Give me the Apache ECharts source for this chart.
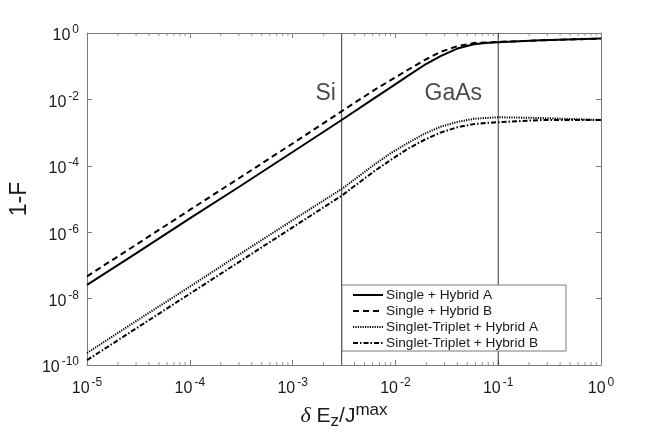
<!DOCTYPE html>
<html>
<head>
<meta charset="utf-8">
<script src="https://cdn.jsdelivr.net/npm/echarts@6/dist/echarts.min.js"></script>
<style>
html,body{margin:0;padding:0;background:#fff;}
#chart{width:664px;height:441px;}
</style>
</head>
<body>
<div id="chart"></div>
<script>
// ---- data ----
const xValues = [1e-5, 3e-5, 1e-4, 3e-4, 1e-3, 3e-3, 0.0062, 0.009, 0.0131, 0.019, 0.0275, 0.04, 0.058, 0.075, 0.1, 0.26, 1];
const singleHybridA = [2.6e-8, 2.3e-7, 2.6e-6, 2.3e-5, 2.6e-4, 2.4e-3, 1.07e-2, 2.3e-2, 5.0e-2, 0.107, 0.20, 0.34, 0.46, 0.50, 0.525, 0.60, 0.68];
const singleHybridB = [4.7e-8, 4.2e-7, 4.7e-6, 4.2e-5, 4.7e-4, 4.4e-3, 1.9e-2, 3.8e-2, 7.6e-2, 0.15, 0.27, 0.40, 0.50, 0.52, 0.54, 0.60, 0.68];
const stHybridA = [2.3e-10, 2.1e-9, 2.3e-8, 2.1e-7, 2.3e-6, 2.0e-5, 1.07e-4, 2.4e-4, 4.8e-4, 9.1e-4, 1.5e-3, 2.1e-3, 2.6e-3, 2.75e-3, 2.9e-3, 2.75e-3, 2.4e-3];
const stHybridB = [1.4e-10, 1.26e-9, 1.4e-8, 1.26e-7, 1.4e-6, 1.26e-5, 6.8e-5, 1.5e-4, 3.2e-4, 6.0e-4, 1.0e-3, 1.45e-3, 1.8e-3, 1.95e-3, 2.05e-3, 2.4e-3, 2.4e-3];
const seriesNames = ['Single + Hybrid A', 'Single + Hybrid B', 'Singlet-Triplet + Hybrid A', 'Singlet-Triplet + Hybrid B'];
const materialNames = ['Si', 'GaAs'];
const materialX = [3e-3, 0.1];
const materialLabelX = [2.1e-3, 0.0366];
const materialLabelY = [1.5e-2, 1.5e-2];
const xMin = 1e-5, xMax = 1, yMin = 1e-10, yMax = 1;
const minorMultipliers = [2, 3, 4, 5, 6, 7, 8, 9];
const minorDecades = [1e-5, 1e-4, 1e-3, 1e-2, 1e-1];

const minorTicks = [];
minorDecades.forEach(d => minorMultipliers.forEach(m => minorTicks.push(m * d)));

const AX = '#7a7a7a';
const TXT = '#1a1a1a';
function pow10Label(v) {
  const e = Math.round(Math.log10(v));
  return '{b|10}{s|' + e + '}';
}
const richTick = {
  b: {fontSize: 16, fontFamily: 'Liberation Sans', color: TXT, padding: [6, 0, 0, 0]},
  s: {fontSize: 12, fontFamily: 'Liberation Sans', color: TXT, padding: [0, 0, 6, 2]}
};

function lineSeries(name, ys, type) {
  return {
    name: name, type: 'line', symbol: 'none',
    data: xValues.map((x, i) => [x, ys[i]]),
    lineStyle: {color: '#000', width: 2, type: type},
    itemStyle: {color: '#000'},
    z: 5
  };
}

const series = [
  lineSeries(seriesNames[0], singleHybridA, 'solid'),
  lineSeries(seriesNames[1], singleHybridB, [6, 4]),
  lineSeries(seriesNames[2], stHybridA, [1.2, 1.2]),
  lineSeries(seriesNames[3], stHybridB, [5, 2, 1.5, 2])
];
materialX.forEach((mx, i) => {
  series.push({
    type: 'line', symbol: 'none', silent: true, z: 3,
    data: [[mx, yMin], [mx, yMax]],
    lineStyle: {color: '#333', width: 1}
  });
});
series.push({
  type: 'scatter', symbolSize: 0, silent: true,
  data: materialNames.map((n, i) => ({name: n, value: [materialLabelX[i], materialLabelY[i]]})),
  label: {show: true, position: 'inside', formatter: '{b}', fontSize: 23, fontFamily: 'Liberation Sans', color: TXT}
});
// minor ticks of the x axes (bottom and top)
series.push({
  type: 'scatter', symbol: 'rect', symbolSize: [1, 3], symbolOffset: [0, -1.5], clip: false, silent: true,
  data: minorTicks.map(x => [x, yMin]), itemStyle: {color: AX}, z: 6
});
series.push({
  type: 'scatter', symbol: 'rect', symbolSize: [1, 3], symbolOffset: [0, 1.5], clip: false, silent: true,
  data: minorTicks.map(x => [x, yMax]), itemStyle: {color: AX}, z: 6
});

const xBase = {
  type: 'log', logBase: 10, min: xMin, max: xMax, splitNumber: 5,
  axisLine: {show: true, lineStyle: {color: AX, width: 1}},
  axisTick: {show: true, inside: true, length: 5, lineStyle: {color: AX}},
  splitLine: {show: false}, minorTick: {show: false}
};
const yBase = {
  type: 'log', logBase: 100, min: yMin, max: yMax, splitNumber: 5,
  axisLine: {show: true, lineStyle: {color: AX, width: 1}},
  axisTick: {show: true, inside: true, length: 5, lineStyle: {color: AX}},
  splitLine: {show: false}, minorTick: {show: false}
};

const option = {
  animation: false,
  backgroundColor: '#fff',
  grid: {left: 86, right: 63, top: 33, bottom: 76, containLabel: false},
  legend: {
    data: seriesNames, orient: 'vertical', left: 342, top: 285,
    itemWidth: 30, itemHeight: 10, itemGap: 0, padding: [2, 28, 0, 10],
    borderColor: AX, borderWidth: 1, backgroundColor: '#fff',
    itemStyle: {opacity: 0},
    textStyle: {fontSize: 13.7, fontFamily: 'Liberation Sans', color: TXT, lineHeight: 16, padding: [0, 0, 0, -2]}
  },
  xAxis: [
    Object.assign({}, xBase, {
      position: 'bottom',
      axisLabel: {margin: 10, formatter: pow10Label, rich: richTick},
      name: '{d|δ} E{sub|z}/J{sup|max}', nameLocation: 'middle', nameGap: 35,
      nameTextStyle: {
        fontSize: 21, fontFamily: 'Liberation Sans', color: TXT,
        rich: {
          d: {fontSize: 22, fontFamily: 'Liberation Serif', fontStyle: 'italic', color: TXT},
          sub: {fontSize: 17, fontFamily: 'Liberation Sans', color: TXT, padding: [10, 0, 0, 0]},
          sup: {fontSize: 17, fontFamily: 'Liberation Sans', color: TXT, padding: [0, 0, 12, 0]}
        }
      }
    }),
    Object.assign({}, xBase, {position: 'top', axisLabel: {show: false}})
  ],
  yAxis: [
    Object.assign({}, yBase, {
      position: 'left',
      axisLabel: {margin: 8, formatter: pow10Label, rich: richTick},
      name: '1-F', nameLocation: 'middle', nameGap: 54,
      nameTextStyle: {fontSize: 23, fontFamily: 'Liberation Sans', color: TXT}
    }),
    Object.assign({}, yBase, {position: 'right', axisLabel: {show: false}})
  ],
  series: series
};

const chart = echarts.init(document.getElementById('chart'), null, {renderer: 'canvas'});
chart.setOption(option);
</script>
</body>
</html>
